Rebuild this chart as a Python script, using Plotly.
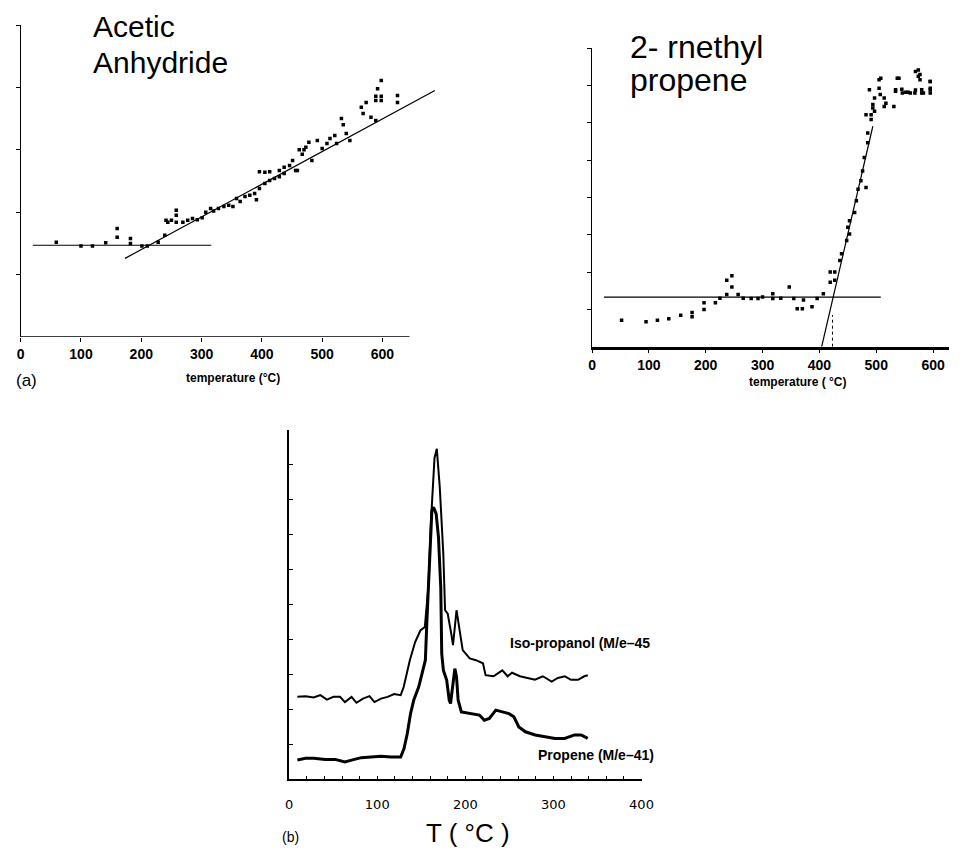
import plotly.graph_objects as go

W, H = 961, 852

# ---------------- (a) Acetic anhydride ----------------
aa_T = [59, 100, 119, 141, 160, 160, 182, 182, 201, 210, 228, 239, 241, 244, 250, 258, 258, 258,
        269, 277, 285, 293, 301, 307, 315, 320, 328, 337, 345, 352, 358, 364, 372, 380, 388, 391,
        396, 396, 405, 405, 413, 413, 421, 429, 429, 437, 437, 446, 451, 456, 459, 462, 467, 470,
        473, 478, 483, 492, 500, 508, 513, 521, 524, 532, 535, 540, 546, 565, 568, 573, 581, 589,
        589, 589, 592, 598, 598, 598, 625, 625]
aa_S = [1.52, 1.46, 1.46, 1.51, 1.74, 1.60, 1.58, 1.50, 1.46, 1.46, 1.52, 1.63, 1.87, 1.84, 1.87,
        2.03, 1.95, 1.84, 1.84, 1.87, 1.90, 1.88, 1.91, 2.00, 2.06, 2.02, 2.06, 2.09, 2.11, 2.09,
        2.22, 2.17, 2.25, 2.27, 2.30, 2.20, 2.38, 2.65, 2.46, 2.64, 2.51, 2.65, 2.54, 2.57, 2.67,
        2.62, 2.72, 2.75, 2.83, 2.67, 2.67, 3.00, 2.93, 3.00, 3.04, 3.12, 2.83, 3.15, 3.02, 3.10,
        3.18, 3.23, 3.10, 3.50, 3.40, 3.26, 3.15, 3.68, 3.58, 3.76, 3.52, 3.79, 3.86, 3.47, 3.98,
        4.11, 3.86, 3.79, 3.87, 3.76]
aa_base_T = [20, 316]
aa_base_S = [1.47, 1.47]
aa_fit_T = [173, 687]
aa_fit_S = [1.26, 3.95]

# ---------------- 2-methyl propene ----------------
mp_T = [52, 95, 115, 135, 156, 176, 176, 197, 197, 217, 225, 237, 237, 246, 246, 257, 266, 280,
        292, 300, 318, 318, 332, 347, 355, 361, 370, 372, 387, 396, 407, 419, 419, 427, 427, 436,
        439, 448, 450, 453, 453, 462, 465, 468, 473, 476, 482, 479, 485, 485, 491, 491, 494, 497,
        505, 508, 514, 514, 531, 537, 534, 545, 556, 569, 569, 577, 577, 580, 580, 595, 595, 595,
        482, 488, 494, 497, 505, 507, 517, 534, 540, 546, 552, 560, 568, 574, 574, 583, 595, 595]
mp_S = [0.71, 0.67, 0.71, 0.75, 0.84, 0.80, 0.92, 1.00, 1.18, 1.18, 1.30, 1.40, 1.78, 1.90, 1.60,
        1.40, 1.30, 1.29, 1.29, 1.33, 1.42, 1.29, 1.30, 1.60, 1.29, 1.02, 1.02, 1.25, 1.07, 1.29,
        1.42, 1.73, 2.00, 2.00, 1.78, 2.31, 2.49, 2.85, 3.20, 3.38, 3.02, 3.60, 3.91, 4.22, 4.45,
        4.71, 4.27, 5.07, 5.47, 5.73, 6.09, 6.22, 6.40, 6.67, 6.93, 7.20, 6.67, 6.44, 6.44, 7.20,
        6.85, 6.90, 6.82, 6.88, 7.38, 7.30, 7.16, 6.89, 6.80, 7.11, 6.89, 6.80,
        6.22, 6.89, 6.49, 6.31, 7.16, 6.76, 6.53, 6.89, 7.20, 6.80, 6.82, 6.80, 6.80, 7.42, 7.25,
        6.80, 6.93, 7.11]
mp_base_T = [21, 508]
mp_base_S = [1.33, 1.33]
mp_fit_T = [404, 494]
mp_fit_S = [0.0, 5.91]
mp_onset_T = [423, 423]
mp_onset_S = [0.0, 0.85]

# ---------------- (b) TPD traces ----------------
iso_T = [9.3, 18.6, 27.9, 35.4, 42.8, 50.3, 57.7, 63.3, 70.8, 76.4, 83.8, 91.2, 96.8, 104.3, 111.7,
         119.2, 126.6, 130, 137, 143, 149, 154, 158, 161, 165, 167.6, 171, 175, 177, 180, 184, 186,
         190, 193, 197, 205, 212, 220, 223, 232, 242, 248, 253, 262, 270, 279, 288, 298, 305, 313,
         320, 328, 335, 339]
iso_S = [2.36, 2.38, 2.34, 2.41, 2.28, 2.36, 2.36, 2.21, 2.36, 2.19, 2.31, 2.38, 2.21, 2.31, 2.36,
         2.44, 2.41, 2.64, 3.41, 3.93, 4.26, 4.36, 5.50, 7.40, 9.20, 9.46, 8.35, 6.45, 4.84, 4.74,
         4.17, 3.84, 4.84, 4.36, 3.70, 3.46, 3.41, 3.32, 2.98, 2.95, 3.12, 2.95, 3.05, 2.95, 2.90,
         2.85, 2.95, 2.80, 2.90, 2.95, 2.85, 2.85, 2.95, 2.98]
pro_T = [9.3, 18.6, 27.9, 40.9, 52.1, 63.3, 70.8, 81.9, 93.1, 104.3, 115.5, 126.6, 130.4, 134.1,
         137.8, 141.5, 147.1, 150.8, 154.6, 156.4, 159.4, 162.0, 163.9, 166.9, 169.5, 172.1, 173.2,
         175.1, 178.8, 181.7, 183.2, 186.2, 188.1, 190.0, 191.8, 195.5, 204.8, 216.0, 221.6, 227.2,
         234.6, 242.1, 249.5, 255.1, 260.7, 268.2, 279.3, 290.5, 301.7, 312.8, 324.0, 331.5, 338.9]
pro_S = [0.55, 0.60, 0.60, 0.57, 0.57, 0.50, 0.55, 0.62, 0.64, 0.66, 0.64, 0.64, 0.88, 1.31, 1.88,
         2.27, 2.65, 3.03, 3.41, 4.55, 6.46, 7.69, 7.79, 7.60, 6.93, 5.50, 3.60, 3.12, 2.84, 2.27,
         2.17, 2.84, 3.17, 2.93, 2.27, 1.93, 1.88, 1.84, 1.69, 1.74, 1.98, 1.93, 1.88, 1.79, 1.50,
         1.36, 1.27, 1.22, 1.17, 1.17, 1.27, 1.27, 1.17]

top_xticks = [0, 100, 200, 300, 400, 500, 600]
bot_xticks = list(range(0, 401, 20))
bot_xlabels = [str(v) if v % 100 == 0 else "" for v in bot_xticks]


def pxx(p):
    return p / W


def pxy(p):
    return 1 - p / H


fig = go.Figure()
blk = "black"

# (a)
fig.add_trace(go.Scatter(x=aa_T, y=aa_S, mode="markers", xaxis="x", yaxis="y",
                         marker=dict(symbol="square", size=3.5, color=blk), showlegend=False))
fig.add_trace(go.Scatter(x=aa_base_T, y=aa_base_S, mode="lines", xaxis="x", yaxis="y",
                         line=dict(color=blk, width=1.2), showlegend=False))
fig.add_trace(go.Scatter(x=aa_fit_T, y=aa_fit_S, mode="lines", xaxis="x", yaxis="y",
                         line=dict(color=blk, width=1.2), showlegend=False))
# methyl propene
fig.add_trace(go.Scatter(x=mp_T, y=mp_S, mode="markers", xaxis="x2", yaxis="y2",
                         marker=dict(symbol="square", size=3.5, color=blk), showlegend=False))
fig.add_trace(go.Scatter(x=mp_base_T, y=mp_base_S, mode="lines", xaxis="x2", yaxis="y2",
                         line=dict(color=blk, width=1.2), showlegend=False))
fig.add_trace(go.Scatter(x=mp_fit_T, y=mp_fit_S, mode="lines", xaxis="x2", yaxis="y2",
                         line=dict(color=blk, width=1.2), showlegend=False, cliponaxis=False))
fig.add_trace(go.Scatter(x=mp_onset_T, y=mp_onset_S, mode="lines", xaxis="x2", yaxis="y2",
                         line=dict(color=blk, width=1, dash="dot"), showlegend=False))
# (b)
fig.add_trace(go.Scatter(x=iso_T, y=iso_S, mode="lines", xaxis="x3", yaxis="y3",
                         line=dict(color=blk, width=2), showlegend=False))
fig.add_trace(go.Scatter(x=pro_T, y=pro_S, mode="lines", xaxis="x3", yaxis="y3",
                         line=dict(color=blk, width=3), showlegend=False))

tickfont_bold = dict(family="Liberation Sans, Arial", size=14, color=blk, weight="bold")
common = dict(showgrid=False, zeroline=False, ticks="outside", tickcolor=blk, ticklen=4)

fig.update_layout(
    width=W, height=H, margin=dict(l=0, r=0, t=0, b=0),
    paper_bgcolor="white", plot_bgcolor="white",
    xaxis=dict(domain=[pxx(17), pxx(440)], range=[0, 690], tickvals=top_xticks,
               tickfont=tickfont_bold, showline=False, anchor="y", **common),
    yaxis=dict(domain=[pxy(337), pxy(25)], range=[0, 5], tickvals=[1, 2, 3, 4, 5],
               showticklabels=False, showline=True, linecolor=blk, linewidth=1, anchor="x", **common),
    xaxis2=dict(domain=[pxx(598), 1.0], range=[0, 628], tickvals=top_xticks,
                tickfont=tickfont_bold, showline=True, linecolor=blk, linewidth=2.5,
                anchor="y2", **common),
    yaxis2=dict(domain=[pxy(346.7), pxy(48.3)], range=[0, 8], tickvals=list(range(1, 9)),
                showticklabels=False, showline=True, linecolor=blk, linewidth=1, anchor="x2", **common),
    xaxis3=dict(domain=[pxx(290), pxx(648.3)], range=[0, 400], tickvals=bot_xticks,
                ticktext=bot_xlabels, showgrid=False, zeroline=False, ticks="inside",
                tickcolor=blk, ticklen=4, ticklabelstandoff=12,
                tickfont=dict(family="DejaVu Sans", size=13, color=blk),
                showline=True, linecolor=blk, linewidth=1.5, anchor="y3"),
    yaxis3=dict(domain=[pxy(779.3), pxy(430)], range=[0, 10], tickvals=list(range(1, 10)),
                showticklabels=False, showgrid=False, zeroline=False, ticks="inside",
                tickcolor=blk, ticklen=4, showline=True, linecolor=blk, linewidth=1.5,
                anchor="x3"),
    shapes=[dict(type="line", xref="x", yref="y", x0=0, x1=645, y0=0, y1=0,
                 line=dict(color=blk, width=1.5))],
)

def ann(text, x, y, size, xanchor="center", bold=False, family="Liberation Sans, Arial"):
    f = dict(family=family, size=size, color=blk)
    if bold:
        f["weight"] = "bold"
    fig.add_annotation(text=text, x=pxx(x), y=pxy(y), xref="paper", yref="paper",
                       showarrow=False, xanchor=xanchor, yanchor="middle", font=f)

ann("Acetic", 88, 27, 30, xanchor="left")
ann("Anhydride", 88, 62, 30, xanchor="left")
ann("2- rnethyl", 635, 47, 32, xanchor="left")
ann("propene", 635, 80, 32, xanchor="left")
ann("(a)", 10, 380, 17, xanchor="left")
ann("temperature (°C)", 233, 378, 12, bold=True)
ann("temperature ( °C)", 807, 382, 12, bold=True)
ann("Iso-propanol (M/e–45", 513, 643, 14, xanchor="left", bold=True)
ann("Propene (M/e–41)", 541, 755, 14, xanchor="left", bold=True)
ann("(b)", 291.7, 837, 14)
ann("T ( °C )", 471.7, 833, 26)

fig.write_html("out.html")
